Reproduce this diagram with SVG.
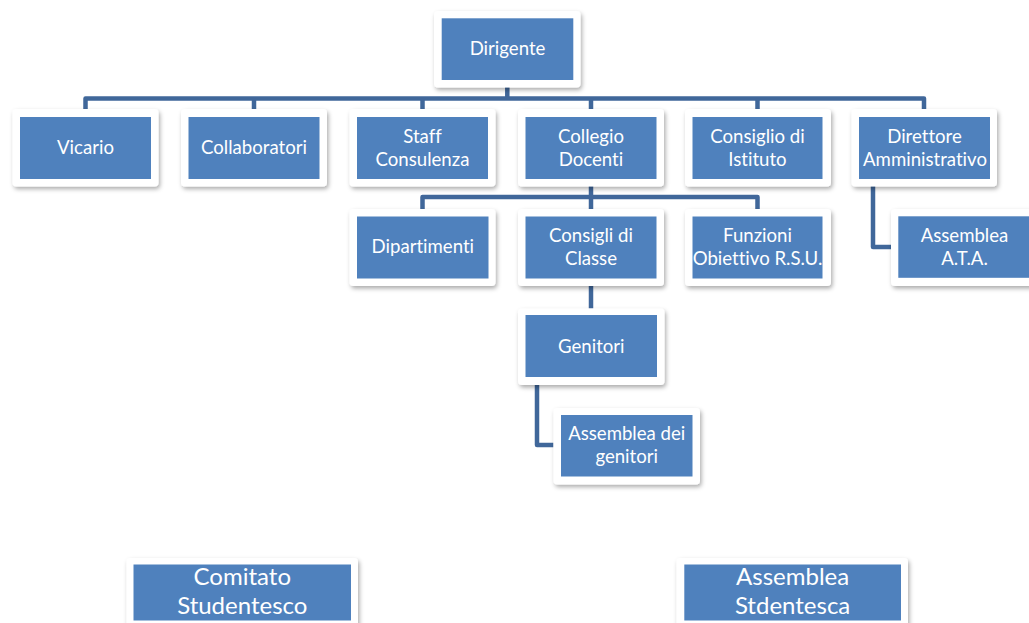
<svg xmlns="http://www.w3.org/2000/svg" width="1029" height="623" viewBox="0 0 1029 623">
<style>
.card{fill:#ffffff;filter:url(#sh)}
.box{fill:#4f81bd}
.t{font-family:Lato,"Open Sans","Liberation Sans",sans-serif;font-size:18.6px;fill:#ffffff;text-anchor:middle;font-variant-ligatures:none;font-feature-settings:"liga" 0,"clig" 0,"dlig" 0}
.tb{font-family:Lato,"Open Sans","Liberation Sans",sans-serif;font-size:24px;fill:#ffffff;text-anchor:middle;font-variant-ligatures:none;font-feature-settings:"liga" 0,"clig" 0,"dlig" 0}
.c{fill:none;stroke:#40679a;stroke-width:4.5;stroke-linejoin:round;stroke-linecap:butt}
</style>
<defs>
<filter id="sh" x="-10%" y="-15%" width="125%" height="140%">
<feDropShadow dx="1.5" dy="2.5" stdDeviation="2" flood-color="#000" flood-opacity="0.33"/>
</filter>
<clipPath id="clipDir"><rect x="859" y="117" width="131" height="62"/></clipPath>
<clipPath id="clipFun"><rect x="692.5" y="216.5" width="130" height="62"/></clipPath>
</defs>
<rect width="1029" height="623" fill="#ffffff"/>
<g id="connectors">
<path class="c" d="M507.3 87 V98.5"/>
<path class="c" d="M85.5 109 V98.5 H924 V109"/>
<path class="c" d="M254 98.5 V109 M422.5 98.5 V109 M591 98.5 V109 M757.5 98.5 V109"/>
<path class="c" d="M591 186 V197"/>
<path class="c" d="M422.5 209 V197 H757.5 V209"/>
<path class="c" d="M591 197 V209"/>
<path class="c" d="M591 286 V308.5"/>
<path class="c" d="M537 385 V445 H553.5"/>
<path class="c" d="M873 186 V247 H891"/>
</g>
<g id="dirigente">
<rect class="card" x="434" y="11" width="146.5" height="76.5" rx="4"/>
<rect class="box" x="441.7" y="18.3" width="131.6" height="61.7"/>
<text class="t" x="507.5" y="55">Dirigente</text>
</g>
<g id="vicario">
<rect class="card" x="12.5" y="109" width="146" height="77.5" rx="4"/>
<rect class="box" x="20" y="117" width="131" height="62"/>
<text class="t" x="85.5" y="154.3">Vicario</text>
</g>
<g id="collaboratori">
<rect class="card" x="181" y="109" width="146" height="77.5" rx="4"/>
<rect class="box" x="188.5" y="117" width="131" height="62"/>
<text class="t" x="254" y="154.3">Collaboratori</text>
</g>
<g id="staff">
<rect class="card" x="349.5" y="109" width="146" height="77.5" rx="4"/>
<rect class="box" x="357" y="117" width="131" height="62"/>
<text class="t" x="422.5" y="143.3">Staff</text>
<text class="t" x="422.5" y="165.7">Consulenza</text>
</g>
<g id="collegio">
<rect class="card" x="518" y="109" width="146" height="77.5" rx="4"/>
<rect class="box" x="525.5" y="117" width="131" height="62"/>
<text class="t" x="591" y="143.3">Collegio</text>
<text class="t" x="591" y="165.7">Docenti</text>
</g>
<g id="consiglio-istituto">
<rect class="card" x="685" y="109" width="146" height="77.5" rx="4"/>
<rect class="box" x="692.5" y="117" width="130" height="62"/>
<text class="t" x="757.5" y="143.3">Consiglio di</text>
<text class="t" x="757.5" y="165.7">Istituto</text>
</g>
<g id="direttore">
<rect class="card" x="851.5" y="109" width="145.5" height="77.5" rx="4"/>
<rect class="box" x="859" y="117" width="131" height="62"/>
<g clip-path="url(#clipDir)">
<text class="t" x="924.5" y="143.3">Direttore</text>
<text class="t" x="925" y="165.7">Amministrativo</text>
</g>
</g>
<g id="dipartimenti">
<rect class="card" x="349.5" y="209" width="146" height="77" rx="4"/>
<rect class="box" x="357" y="216.5" width="131.5" height="62"/>
<text class="t" x="422.8" y="252.7">Dipartimenti</text>
</g>
<g id="consigli-classe">
<rect class="card" x="518" y="209" width="146" height="77" rx="4"/>
<rect class="box" x="525.5" y="216.5" width="131" height="62"/>
<text class="t" x="591" y="242.3">Consigli di</text>
<text class="t" x="591" y="265">Classe</text>
</g>
<g id="funzioni">
<rect class="card" x="685" y="209" width="146" height="77" rx="4"/>
<rect class="box" x="692.5" y="216.5" width="130" height="62"/>
<g clip-path="url(#clipFun)">
<text class="t" x="757.5" y="242.3">Funzioni</text>
<text class="t" x="757.5" y="265">Obiettivo R.S.U.</text>
</g>
</g>
<g id="assemblea-ata">
<rect class="card" x="891" y="209" width="146" height="77" rx="4"/>
<rect class="box" x="898.3" y="216.3" width="131" height="61.5"/>
<text class="t" x="964.5" y="242.3">Assemblea</text>
<text class="t" x="964.5" y="265">A.T.A.</text>
</g>
<g id="genitori">
<rect class="card" x="518" y="308.5" width="146.5" height="76.5" rx="4"/>
<rect class="box" x="525.5" y="315" width="131.5" height="62"/>
<text class="t" x="591.3" y="352.7">Genitori</text>
</g>
<g id="assemblea-genitori">
<rect class="card" x="553.5" y="408" width="146.5" height="76.5" rx="4"/>
<rect class="box" x="561" y="415" width="131.5" height="61.5"/>
<text class="t" x="626.7" y="440">Assemblea dei</text>
<text class="t" x="626.7" y="462.7">genitori</text>
</g>
<g id="comitato-studentesco">
<rect class="card" x="126.5" y="558" width="231.5" height="72" rx="4"/>
<rect class="box" x="133.5" y="564.5" width="217.5" height="56"/>
<text class="tb" x="242.3" y="585">Comitato</text>
<text class="tb" x="242.3" y="614">Studentesco</text>
</g>
<g id="assemblea-studentesca">
<rect class="card" x="676.5" y="558" width="231.5" height="72" rx="4"/>
<rect class="box" x="684.3" y="564.5" width="216.7" height="56"/>
<text class="tb" x="792.6" y="585">Assemblea</text>
<text class="tb" x="792.6" y="614">Stdentesca</text>
</g>
</svg>
